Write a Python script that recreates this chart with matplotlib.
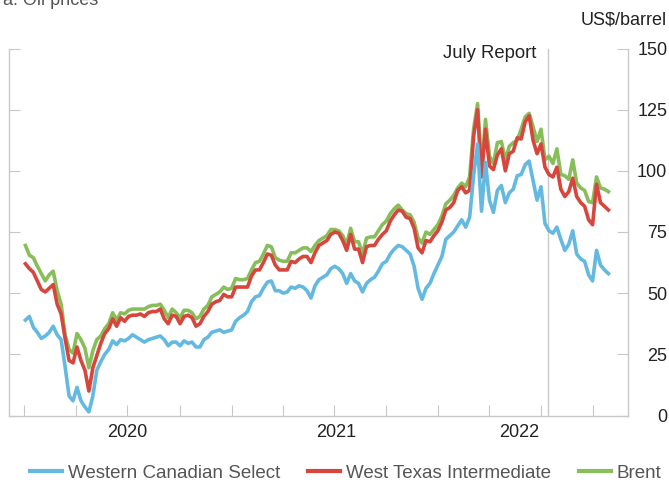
import pandas as pd
import matplotlib
matplotlib.use('Agg')
from matplotlib import pyplot as plt
from matplotlib.lines import Line2D
import matplotlib.dates as mdates

plt.rcParams['font.family'] = ['Liberation Sans', 'DejaVu Sans']

# weekly values (US$/barrel)
brent_2020 = [69.5, 65.5, 64.5, 61.0, 58.0, 55.0, 57.5, 59.0, 51.0, 45.5,
              33.0, 27.0, 25.5, 33.5, 31.0, 27.5, 19.5, 26.5, 31.0, 32.5,
              35.5, 37.5, 42.0, 39.0, 42.0, 41.5, 43.0, 43.5, 43.5, 43.5,
              43.5, 44.5, 45.0, 45.0, 45.5, 43.0, 40.0, 43.5, 42.0, 40.0,
              43.0, 43.0, 42.0, 39.5, 40.5, 43.5, 45.0, 48.5, 49.5, 50.5,
              52.5, 51.5]
brent_2021 = [52.0, 56.0, 55.5, 55.5, 56.0, 59.5, 62.5, 63.0, 66.0, 69.5,
              69.0, 64.5, 63.5, 63.0, 63.0, 66.5, 66.5, 67.5, 68.5, 68.5,
              67.0, 69.5, 71.5, 72.5, 73.5, 76.0, 76.0, 75.5, 73.5, 70.0,
              76.5, 71.0, 71.0, 66.0, 72.5, 73.0, 73.0, 75.5, 78.0, 79.5,
              82.5, 84.5, 86.0, 84.0, 82.5, 82.0, 79.0, 72.5, 70.5, 75.0,
              74.0, 76.0, 78.0]
brent_2022 = [81.5, 86.5, 88.0, 90.0, 93.0, 95.0, 93.5, 97.5, 117.0, 127.5,
              100.5, 121.0, 106.0, 103.0, 111.5, 112.0, 104.5, 110.0, 111.5, 112.5,
              117.0, 122.0, 123.5, 118.0, 112.0, 117.0, 104.5, 106.0, 103.0, 109.0,
              98.5, 98.0, 96.5, 104.5, 95.0, 93.0, 92.0, 87.5, 87.0, 97.5,
              93.0, 92.5, 91.5]

wti_2020 = [62.0, 60.0, 58.5, 55.0, 51.5, 50.5, 52.0, 53.5, 45.5, 41.5,
            31.5, 22.5, 21.5, 28.0, 22.5, 18.5, 10.0, 19.5, 24.5, 29.5,
            33.5, 35.5, 39.5, 36.5, 40.0, 38.5, 40.5, 41.0, 41.0, 41.5,
            40.5, 42.0, 42.5, 42.5, 43.5, 39.5, 37.5, 41.0, 40.5, 37.5,
            40.5, 41.0, 40.0, 36.5, 37.5, 40.5, 42.5, 45.5, 46.5, 47.0,
            49.5, 48.5]
wti_2021 = [48.5, 52.5, 52.5, 52.5, 52.5, 57.0, 59.5, 59.5, 62.5, 66.0,
            65.5, 61.5, 59.5, 59.5, 59.5, 63.0, 62.5, 64.0, 65.0, 65.0,
            62.5, 66.5, 69.5, 70.5, 71.5, 74.0, 75.0, 74.5, 71.5, 67.5,
            74.0, 68.0, 68.0, 62.5, 69.0, 69.5, 69.5, 72.0, 74.0, 75.5,
            79.5, 82.0, 84.0, 83.5, 81.0, 80.5, 76.5, 68.5, 66.5, 71.5,
            71.0, 73.5, 75.5]
wti_2022 = [79.0, 84.0, 85.0, 87.0, 92.0, 93.5, 91.0, 92.0, 114.0, 125.0,
            97.5, 117.0, 102.0, 100.5, 106.5, 109.0, 100.0, 107.0, 108.0, 113.5,
            113.0, 120.0, 122.5, 112.5, 107.0, 111.0, 101.5, 98.5, 97.5, 101.5,
            92.5, 89.5, 91.5, 97.0, 89.5, 87.0, 85.5, 80.0, 78.0, 94.5,
            87.0, 85.5, 84.0]

wcs_2020 = [39.0, 40.5, 36.0, 34.0, 31.5, 32.5, 34.0, 36.5, 33.0, 31.0,
            20.0, 8.0, 6.0, 11.5, 6.0, 3.5, 1.5, 8.0, 18.5, 22.0,
            25.0, 27.0, 30.5, 29.0, 31.0, 30.5, 31.5, 33.0, 32.0, 31.0,
            30.0, 31.0, 31.5, 32.0, 32.5, 31.0, 28.5, 30.0, 30.0, 28.5,
            30.5, 29.5, 30.0, 28.0, 28.0, 31.0, 32.0, 34.0, 34.5, 35.0,
            34.0, 34.5]
wcs_2021 = [35.0, 38.5, 40.0, 41.0, 42.5, 46.5, 48.5, 49.0, 52.0, 54.5,
            55.0, 51.0, 51.0, 50.0, 50.5, 52.5, 52.0, 53.0, 52.5, 51.0,
            48.0, 53.0, 55.5, 56.5, 57.5, 60.0, 61.0, 60.0, 58.0, 54.0,
            58.0, 55.0, 54.0, 50.5, 54.0, 55.5, 56.5, 59.0, 62.0, 63.0,
            66.0, 68.0, 69.5, 69.0, 67.5, 66.0, 61.0, 52.0, 47.5, 52.0,
            54.0, 58.0, 61.5]
wcs_2022 = [65.0, 72.0, 73.5, 75.0, 77.5, 80.0, 77.0, 81.0, 98.0, 111.0,
            83.5, 103.5, 88.0, 83.0, 92.0, 94.0, 87.0, 91.0, 92.5, 98.0,
            98.5, 102.5, 104.0, 96.0, 88.0, 93.5, 78.5, 75.5, 74.5, 77.0,
            72.0, 67.5, 70.0, 75.5, 66.0, 64.0, 63.0, 57.5, 55.0, 67.5,
            61.5, 59.5, 58.0]

weeks = pd.date_range('2020-01-03', '2022-10-28', freq='W-FRI')
brent = brent_2020 + brent_2021 + brent_2022
wti = wti_2020 + wti_2021 + wti_2022
wcs = wcs_2020 + wcs_2021 + wcs_2022

names = ['Western Canadian Select', 'West Texas Intermediate', 'Brent']
year_labels = ['2020', '2021', '2022']
year_label_pos = ['2020-07-01', '2021-07-04', '2022-05-23']
quarters = pd.date_range('2020-01-01', '2022-10-01', freq='QS')
report_date = '2022-07-13'

blue = '#64b9e1'
red = '#d7463c'
green = '#88be5a'
grey = '#c8c8c8'

fig = plt.figure(figsize=(6.69, 4.83), dpi=100)
ax = fig.add_axes([9 / 669, 1 - 415.5 / 483, (627.7 - 9) / 669, (415.5 - 48.5) / 483])

ax.plot(weeks, brent, color=green, lw=2.6, zorder=3)
ax.plot(weeks, wti, color=red, lw=2.6, zorder=4)
ax.plot(weeks, wcs, color=blue, lw=2.6, zorder=5)

jd = mdates.date2num(pd.Timestamp(report_date))
ax.axvline(jd, color=grey, lw=1, zorder=2)
ax.annotate('July Report', xy=(jd, 148), xytext=(-8, 0), textcoords='offset points',
            ha='right', va='center', fontsize=13.3, color='#222222')

ax.set_ylim(0, 150)
ax.set_xlim(mdates.date2num(pd.Timestamp('2019-12-05')), mdates.date2num(pd.Timestamp('2022-12-01')))

for s in ['left', 'right', 'bottom']:
    ax.spines[s].set_color(grey)
    ax.spines[s].set_linewidth(1)
ax.spines['top'].set_visible(False)

ax.set_yticks(range(0, 151, 25))
ax.tick_params(axis='y', direction='in', length=8, color=grey, left=True, right=True,
               labelleft=False, labelright=True, labelsize=13, pad=28.5, labelcolor='#222222')
for t in ax.yaxis.get_major_ticks():
    t.label2.set_horizontalalignment('right')

# year labels sit on minor ticks; keep the one that falls on a quarter tick
ax.xaxis.remove_overlapping_locs = False
ax.set_xticks(mdates.date2num(quarters))
ax.set_xticklabels([])
ax.set_xticks(mdates.date2num(pd.to_datetime(year_label_pos)), minor=True)
ax.set_xticklabels(year_labels, minor=True)
ax.tick_params(axis='x', which='major', direction='in', length=8, color=grey)
ax.tick_params(axis='x', which='minor', length=0, pad=6, labelsize=13, labelcolor='#222222')

fig.text(667 / 669, 1 - 20 / 483, 'US$/barrel', ha='right', va='center', fontsize=13, color='#222222')
fig.text(3 / 669, 1 - 5 / 483, 'a. Oil prices', ha='left', va='baseline', fontsize=13, color='#555555')

handles = [Line2D([], [], color=c, lw=3) for c in [blue, red, green]]
fig.legend(handles, names, loc='center', bbox_to_anchor=(0.517, 1 - 473 / 483), ncol=3,
           frameon=False, fontsize=13.5, handlelength=1.7, handletextpad=0.3,
           columnspacing=1.5, labelcolor='#555555', borderpad=0, borderaxespad=0)

fig.savefig('out.png', dpi=100)
